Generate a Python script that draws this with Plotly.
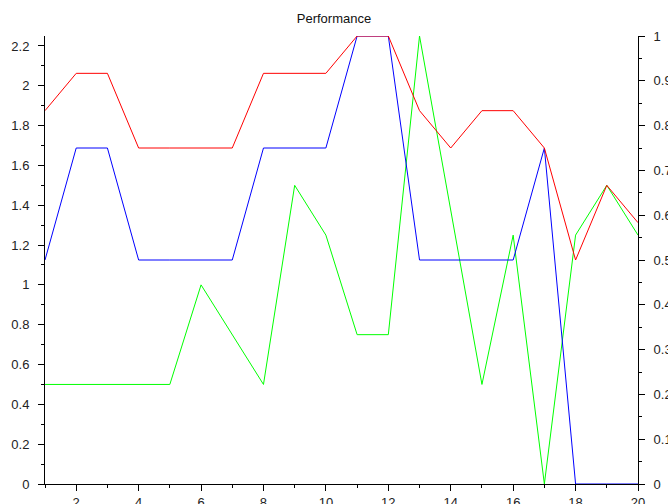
import plotly.graph_objects as go

x = list(range(1, 21))
red = [5/6, 11/12, 11/12, 0.75, 0.75, 0.75, 0.75, 11/12, 11/12, 11/12,
       1.0, 1.0, 5/6, 0.75, 5/6, 5/6, 0.75, 0.5, 2/3, 7/12]
blue = [0.5, 0.75, 0.75, 0.5, 0.5, 0.5, 0.5, 0.75, 0.75, 0.75,
        1.0, 1.0, 0.5, 0.5, 0.5, 0.5, 0.75, 0.0, 0.0, 0.0]
green = [0.5, 0.5, 0.5, 0.5, 0.5, 1.0, 0.75, 0.5, 1.5, 1.25,
         0.75, 0.75, 2.25, 1.375, 0.5, 1.25, 0.0, 1.25, 1.5, 1.25]

fig = go.Figure()
fig.add_trace(go.Scatter(x=x, y=green, mode="lines", line=dict(color="#00ff00", width=1), yaxis="y"))
fig.add_trace(go.Scatter(x=x, y=blue, mode="lines", line=dict(color="#0000ff", width=1), yaxis="y2"))
fig.add_trace(go.Scatter(x=x, y=red, mode="lines", line=dict(color="#ff0000", width=1), yaxis="y2"))

tickfont = dict(family="Liberation Sans, Arial, sans-serif", size=13, color="#222")
common = dict(showgrid=False, zeroline=False, showline=True, linecolor="black", linewidth=1,
              ticks="outside", ticklen=6, tickcolor="black", tickfont=tickfont,
              automargin=False)

fig.update_layout(
    template="none",
    width=668, height=504,
    margin=dict(l=45, r=30, t=36, b=20, pad=0),
    paper_bgcolor="white", plot_bgcolor="white",
    showlegend=False,
    title=dict(text="Performance", x=0.5, xanchor="center", y=1 - 18/504, yanchor="middle",
               font=dict(family="Liberation Sans, Arial, sans-serif", size=13, color="#111")),
    xaxis=dict(range=[1, 20], dtick=2, tick0=0,
               minor=dict(ticks="outside", dtick=1, ticklen=3, tickcolor="black"), **common),
    yaxis=dict(range=[0, 2.25], dtick=0.2, tick0=0, ticklabelstandoff=6,
               minor=dict(ticks="outside", dtick=0.1, ticklen=3, tickcolor="black"), **common),
    yaxis2=dict(range=[0, 1], dtick=0.1, tick0=0, overlaying="y", side="right", ticklabelstandoff=6,
                minor=dict(ticks="outside", dtick=0.05, ticklen=3, tickcolor="black"), **common),
)

fig.write_html("out.html", config={"displayModeBar": False},
               post_script="document.body.style.margin='0';document.body.style.overflow='hidden';")
